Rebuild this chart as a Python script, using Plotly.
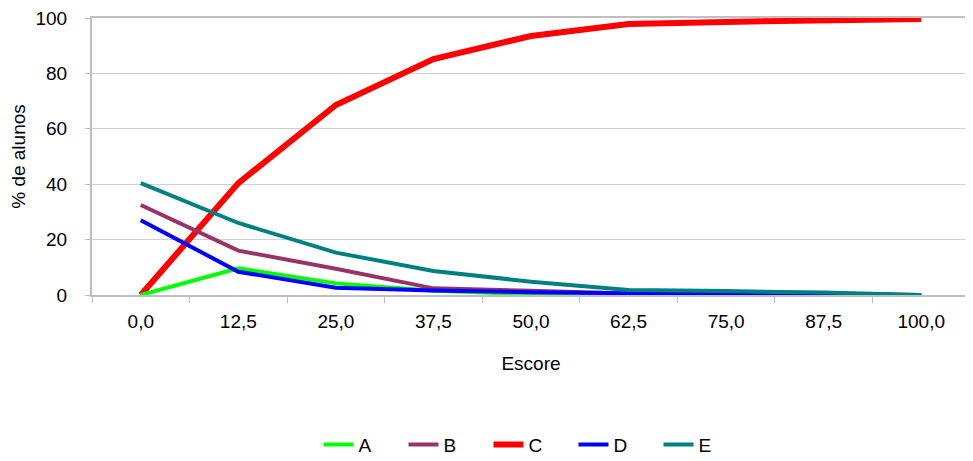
import plotly.graph_objects as go

categories = ["0,0", "12,5", "25,0", "37,5", "50,0", "62,5", "75,0", "87,5", "100,0"]
serie_a = [0, 9.6, 4.2, 1.5, 0.3, 0.2, 0.1, 0.1, 0]
serie_b = [32.5, 16.0, 9.5, 2.4, 1.5, 0.5, 0.3, 0.2, 0]
serie_c = [0, 40.4, 68.6, 85.2, 93.5, 97.8, 98.6, 99.0, 99.6]
serie_d = [27.0, 8.4, 2.6, 1.6, 1.0, 0.5, 0.3, 0.2, 0]
serie_e = [40.4, 26.0, 15.3, 8.7, 4.8, 1.8, 1.4, 0.9, 0]

series = [
    ("C", serie_c, "#FF0000", 6, 3),
    ("A", serie_a, "#00FF00", 4, 1),
    ("B", serie_b, "#993366", 4, 2),
    ("D", serie_d, "#0000FF", 4, 4),
    ("E", serie_e, "#008080", 4, 5),
]

FONT = "Liberation Sans, Arial, sans-serif"
FS = 19

fig = go.Figure()
for name, vals, color, w, rank in series:
    fig.add_trace(go.Scatter(
        x=categories, y=vals, name=name, mode="lines",
        line=dict(color=color, width=w),
        legendrank=rank,
    ))

# page body has an 8px margin, so the figure is offset by 8px
fig.update_layout(
    width=965, height=453,
    margin=dict(l=84, r=3, t=10, b=166, autoexpand=False),
    paper_bgcolor="white", plot_bgcolor="white",
    font=dict(family=FONT, size=FS, color="black"),
    showlegend=True,
    legend=dict(orientation="h", x=0.5, xanchor="center", y=-0.54, yanchor="middle",
                font=dict(size=FS), tracegroupgap=0,
                entrywidth=40, entrywidthmode="pixels"),
    xaxis=dict(
        type="category", range=[-0.5, 8.5], tickson="boundaries",
        ticks="outside", ticklen=6, tickcolor="#bfbfbf", tickwidth=1,
        showline=True, linecolor="#bfbfbf", linewidth=2, mirror=True,
        showgrid=False, zeroline=False, automargin=False,
        title=dict(text="Escore", standoff=26, font=dict(size=FS)),
        tickfont=dict(size=FS), ticklabelstandoff=8,
    ),
    yaxis=dict(
        range=[0, 100], dtick=20, tick0=0,
        ticks="outside", ticklen=5, tickcolor="#bfbfbf", tickwidth=1,
        showline=True, linecolor="#bfbfbf", linewidth=2,
        showgrid=True, gridcolor="#d0d0d0", gridwidth=1, zeroline=False,
        automargin=False, ticklabeloverflow="allow",
        title=dict(text="% de alunos", standoff=6, font=dict(size=FS)),
        tickfont=dict(size=FS), ticklabelstandoff=14,
    ),
)

fig.write_html("out.html")
